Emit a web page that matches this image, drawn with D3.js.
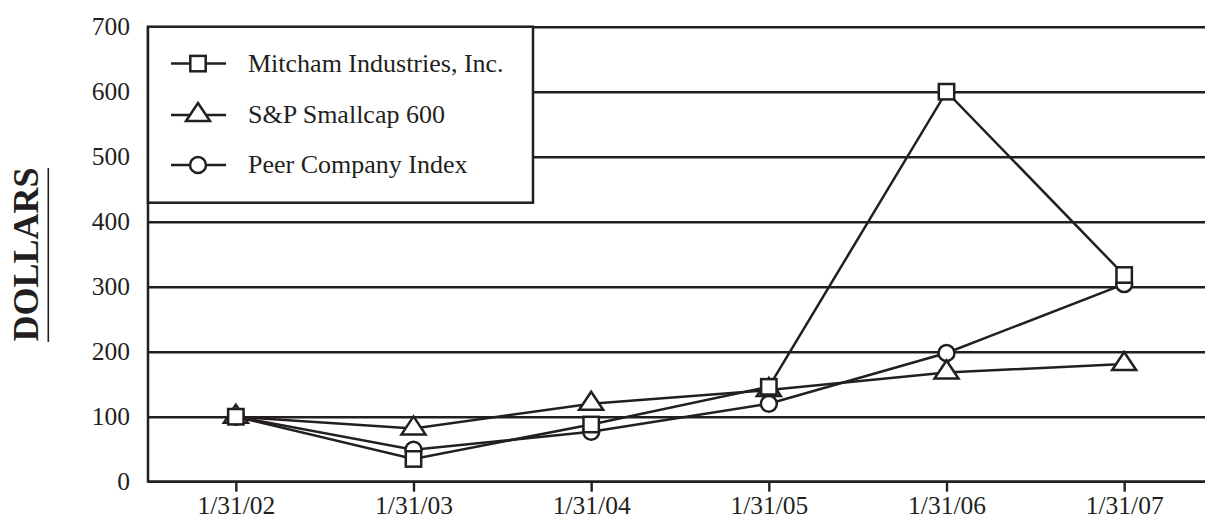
<!DOCTYPE html>
<html><head><meta charset="utf-8">
<script src="https://cdn.jsdelivr.net/npm/d3@7"></script>
<style>
body{margin:0;background:#fff}
svg{display:block}
text{font-family:"Liberation Serif","Times New Roman",serif;fill:#231f20}
</style>
</head><body>
<svg id="c" width="1205" height="523"></svg>
<script>
const dates = ["1/31/02","1/31/03","1/31/04","1/31/05","1/31/06","1/31/07"];
const mitcham = [100,35,88,146,600,318];
const sp600 = [100,82,120,141,168,181];
const peer = [100,49,77,120,198,304];
const yTicks = [0,100,200,300,400,500,600,700];
const seriesNames = ["Mitcham Industries, Inc.","S&P Smallcap 600","Peer Company Index"];
const yTitle = "DOLLARS";

const ink = "#231f20";
const svg = d3.select("#c");
const W = 1205;
const x = d3.scalePoint().domain(dates).range([147,1213]).padding(0.5);
const y = d3.scaleLinear().domain([0,700]).range([481.7,26.7]);
const left = 148;
const sw = 2.5;

// gridlines
const grid = svg.append("g").attr("transform",`translate(${left},0)`)
  .call(d3.axisLeft(y).tickValues(yTicks.filter(v=>v>0)).tickSize(-(W-left)).tickFormat(""));
grid.select(".domain").remove();
grid.selectAll("line").attr("stroke",ink).attr("stroke-width",2.4);

// y tick labels
svg.append("g").selectAll("text").data(yTicks).join("text")
  .attr("x",130).attr("y",d=>y(d)+8.7).attr("text-anchor","end")
  .attr("font-size",25.5).text(d=>d);

// y axis line
svg.append("line").attr("x1",left).attr("x2",left).attr("y1",y(700)).attr("y2",y(0)+1)
  .attr("stroke",ink).attr("stroke-width",2.5);

// x axis
const xa = svg.append("g").attr("transform",`translate(0,${y(0)})`)
  .call(d3.axisBottom(x).tickSize(10).tickSizeOuter(0));
xa.select(".domain").attr("d",`M${left},0H${W}`).attr("stroke",ink).attr("stroke-width",2.8);
xa.selectAll(".tick line").attr("stroke",ink).attr("stroke-width",2.4);
xa.selectAll(".tick text").attr("y",32).attr("dy",0).attr("font-size",25.5)
  .attr("fill",ink).attr("font-family","'Liberation Serif','Times New Roman',serif");

// y title
svg.append("text").attr("transform","translate(38,254.5) rotate(-90)")
  .attr("text-anchor","middle").attr("font-size",36).attr("font-weight","bold").text(yTitle);
svg.append("line").attr("x1",48.3).attr("x2",48.3).attr("y1",168).attr("y2",342)
  .attr("stroke",ink).attr("stroke-width",1.6);

// lines
const line = d3.line().x((d,i)=>x(dates[i])).y(d=>y(d));
[mitcham,sp600,peer].forEach(s=>{
  svg.append("path").attr("d",line(s)).attr("fill","none")
    .attr("stroke",ink).attr("stroke-width",sw).attr("stroke-linejoin","miter");
});

const triPath = "M0,-12L12,6L-12,6Z";
function drawCircle(g,cx,cy){g.append("circle").attr("cx",cx).attr("cy",cy).attr("r",8)
  .attr("fill","#fff").attr("stroke",ink).attr("stroke-width",sw);}
function drawTri(g,cx,cy){g.append("path").attr("d",triPath).attr("transform",`translate(${cx},${cy})`)
  .attr("fill","#fff").attr("stroke",ink).attr("stroke-width",sw);}
function drawSq(g,cx,cy){g.append("rect").attr("x",cx-7.7).attr("y",cy-7.7).attr("width",15.4).attr("height",15.4)
  .attr("fill","#fff").attr("stroke",ink).attr("stroke-width",sw);}

const mk = svg.append("g");
peer.forEach((v,i)=>drawCircle(mk,x(dates[i]),y(v)));
sp600.forEach((v,i)=>drawTri(mk,x(dates[i]),y(v)));
mitcham.forEach((v,i)=>drawSq(mk,x(dates[i]),y(v)));

// legend
const lg = svg.append("g");
lg.append("rect").attr("x",left).attr("y",y(700)).attr("width",385).attr("height",176)
  .attr("fill","#fff").attr("stroke",ink).attr("stroke-width",2.5);
const rowsY = [63.6,115,165];
const drawers = [drawSq,drawTri,drawCircle];
seriesNames.forEach((n,i)=>{
  lg.append("line").attr("x1",171).attr("x2",226).attr("y1",rowsY[i]).attr("y2",rowsY[i])
    .attr("stroke",ink).attr("stroke-width",sw);
  drawers[i](lg,198,rowsY[i]);
  lg.append("text").attr("x",248).attr("y",rowsY[i]+8.3).attr("font-size",26).text(n);
});
</script>
</body></html>
